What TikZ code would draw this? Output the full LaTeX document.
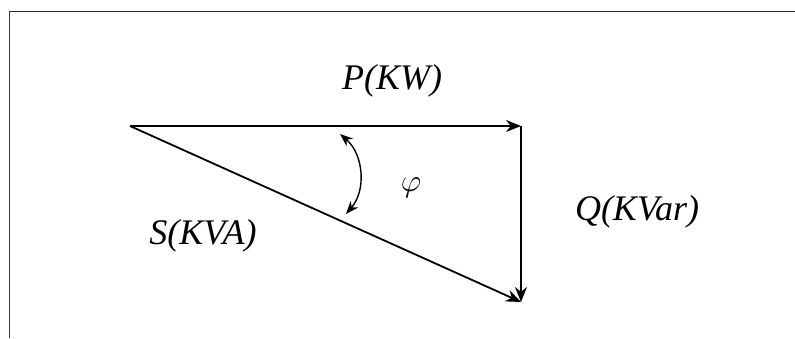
\documentclass[tikz,border=0pt]{standalone}
\usepackage{fontspec}
\setmainfont{Liberation Serif}
\usepackage{amsmath,amssymb}
\usetikzlibrary{arrows.meta,positioning}

\begin{document}
\begin{tikzpicture}[x=1pt, y=1pt]
\tikzstyle{vec} = [line width=1.8pt,->,>={Stealth[length=15pt,width=12pt]}]
\tikzstyle{angarrow} = [line width=1.4pt,<->,>={Stealth[length=13pt,width=10pt]}]
\tikzstyle{lbl} = [font=\fontsize{36}{40}\selectfont\itshape, inner sep=0pt]

\useasboundingbox (0,0) rectangle (795,338);
% frame (top and left edges only)
\draw [line width=1pt, black!80] (795,326) -- (9,326) -- (9,0);

% triangle corners
\coordinate (o) at (130,212);
\coordinate (r) at (521,212);
\coordinate (b) at (521,36);

\draw [vec] (o) -- (r);
\draw [vec] (r) -- (b);
\draw [vec] (o) -- (b);

% angle
\coordinate (a1) at (346,124);
\coordinate (a2) at (340,204);
\draw [angarrow] (a1) to[bend right=45] (a2);

\node [lbl] (p) at (392,257) {P(KW)};
\node [lbl] (q) at (637,126) {Q(KVar)};
\node [lbl] (s) at (203,102) {S(KVA)};
\node [inner sep=0pt, scale=2.2] (phi) at (411,150) {\Large$\varphi$};
\end{tikzpicture}
\end{document}
